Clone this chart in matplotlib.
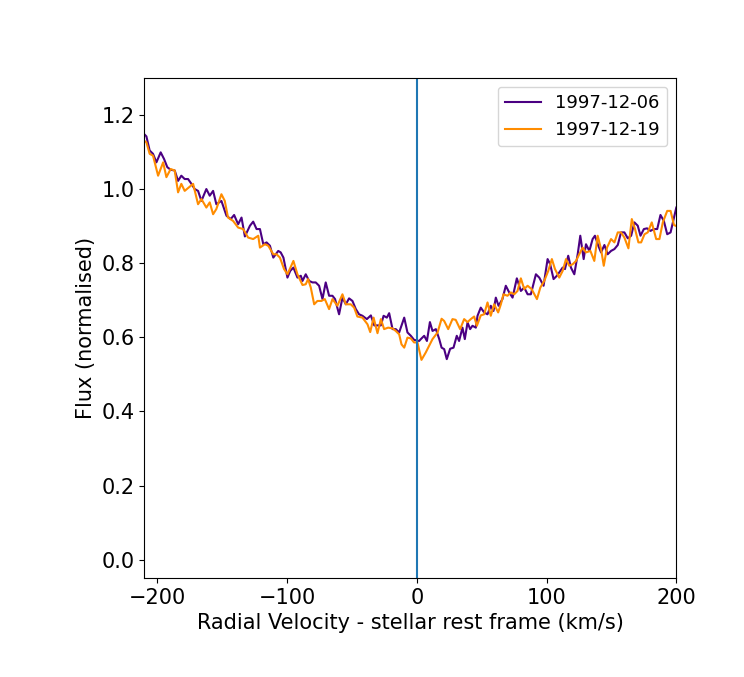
import numpy as np
import matplotlib
matplotlib.use("Agg")
import matplotlib.pyplot as plt

# 1997-12-06 spectrum (velocity km/s, normalised flux)
v_dec06 = [-212.0, -208.4, -205.9, -203.3, -200.7, -197.4, -194.8, -192.3, -189.7, -186.6,
           -184.0, -181.5, -178.9, -176.3, -173.7, -171.2, -168.6, -166.0, -162.2, -159.6,
           -157.0, -154.5, -150.6, -146.7, -143.4, -140.8, -137.7, -135.1, -132.5, -128.6,
           -126.1, -123.5, -120.9, -118.3, -115.8, -113.2, -110.6, -106.8, -104.9, -102.8,
           -99.7, -97.6, -95.1, -92.0, -89.4, -88.1, -85.6, -83.0, -80.4, -77.9,
           -75.3, -72.7, -70.2, -67.6, -65.0, -63.0, -59.9, -57.3, -54.7, -52.2,
           -49.6, -47.0, -44.5, -41.9, -38.5, -35.4, -32.8, -30.3, -27.7, -25.6,
           -23.1, -21.3, -18.7, -16.2, -13.6, -9.7, -7.2, -4.6, -2.1, 1.8,
           3.1, 5.7, 7.8, 10.1, 12.1, 14.7, 17.3, 19.1, 21.1, 23.1,
           25.7, 28.3, 30.8, 32.6, 35.2, 37.0, 39.1, 41.1, 42.9, 45.5,
           46.8, 49.3, 51.9, 54.5, 57.0, 59.1, 60.9, 63.0, 66.0, 68.6,
           71.2, 73.8, 77.1, 80.2, 82.8, 85.4, 87.9, 91.8, 94.4, 97.7,
           100.8, 102.8, 105.4, 108.0, 109.8, 112.4, 114.2, 116.7, 118.8, 121.4,
           124.0, 126.0, 128.6, 130.4, 133.0, 135.5, 137.3, 139.9, 142.0, 144.6,
           147.1, 149.7, 152.3, 154.9, 157.4, 160.0, 162.6, 165.2, 167.7, 170.3,
           172.4, 175.0, 177.5, 180.1, 182.7, 185.3, 187.8, 190.4, 193.0, 195.6,
           197.4, 200.0]
f_dec06 = [1.155, 1.142, 1.104, 1.095, 1.072, 1.099, 1.081, 1.059, 1.052, 1.050,
           1.022, 1.036, 1.027, 1.027, 1.014, 1.000, 0.995, 0.968, 1.000, 0.982,
           0.995, 0.959, 0.968, 0.928, 0.919, 0.930, 0.905, 0.923, 0.872, 0.901,
           0.912, 0.892, 0.892, 0.851, 0.856, 0.847, 0.815, 0.833, 0.829, 0.815,
           0.761, 0.779, 0.788, 0.761, 0.766, 0.752, 0.770, 0.752, 0.748, 0.748,
           0.739, 0.703, 0.748, 0.712, 0.712, 0.703, 0.662, 0.707, 0.689, 0.705,
           0.698, 0.676, 0.662, 0.658, 0.649, 0.659, 0.632, 0.632, 0.632, 0.658,
           0.653, 0.665, 0.622, 0.622, 0.613, 0.653, 0.613, 0.604, 0.593, 0.590,
           0.595, 0.604, 0.590, 0.641, 0.617, 0.622, 0.595, 0.572, 0.568, 0.541,
           0.569, 0.572, 0.604, 0.590, 0.626, 0.595, 0.640, 0.622, 0.631, 0.626,
           0.658, 0.680, 0.667, 0.662, 0.685, 0.671, 0.707, 0.685, 0.703, 0.739,
           0.721, 0.707, 0.759, 0.725, 0.734, 0.716, 0.716, 0.770, 0.761, 0.739,
           0.811, 0.797, 0.757, 0.766, 0.775, 0.788, 0.784, 0.820, 0.788, 0.770,
           0.824, 0.874, 0.811, 0.851, 0.833, 0.865, 0.874, 0.847, 0.829, 0.849,
           0.824, 0.833, 0.838, 0.849, 0.883, 0.883, 0.867, 0.874, 0.910, 0.901,
           0.874, 0.892, 0.894, 0.887, 0.892, 0.892, 0.930, 0.914, 0.878, 0.883,
           0.910, 0.950]

# 1997-12-19 spectrum
v_dec19 = [-212.0, -208.4, -205.9, -203.3, -199.4, -195.5, -193.0, -189.7, -186.6, -184.0,
           -181.5, -178.9, -175.5, -172.4, -168.6, -166.0, -162.2, -159.6, -157.0, -154.5,
           -150.6, -148.0, -145.5, -141.6, -137.7, -133.8, -130.0, -126.1, -122.2, -120.9,
           -117.1, -114.5, -110.6, -108.1, -105.5, -102.3, -99.7, -95.1, -92.0, -88.1,
           -85.6, -83.8, -81.7, -79.1, -76.6, -73.5, -70.9, -67.6, -65.0, -61.2,
           -57.3, -54.7, -50.9, -48.3, -45.8, -41.9, -38.0, -35.9, -33.3, -30.3,
           -27.7, -25.2, -22.1, -18.7, -16.2, -13.6, -11.8, -9.7, -7.2, -4.6,
           -2.1, 0.5, 3.6, 6.9, 9.5, 12.1, 16.0, 19.1, 21.1, 24.2,
           27.5, 30.0, 33.4, 36.5, 39.1, 41.6, 44.2, 46.3, 49.3, 51.9,
           54.5, 57.0, 59.6, 62.7, 64.8, 66.8, 69.9, 72.5, 75.1, 77.6,
           80.2, 82.8, 85.4, 88.5, 92.6, 95.2, 98.2, 101.3, 104.1, 106.5,
           109.8, 112.4, 115.0, 117.5, 120.1, 122.7, 125.2, 127.8, 130.4, 133.8,
           136.8, 139.4, 142.0, 144.1, 146.6, 149.7, 152.3, 154.9, 157.4, 160.0,
           163.1, 165.7, 168.2, 170.8, 172.9, 175.5, 178.0, 181.1, 184.5, 187.0,
           189.6, 193.0, 195.6, 198.2, 200.0]
f_dec19 = [1.135, 1.126, 1.095, 1.090, 1.036, 1.072, 1.032, 1.054, 1.050, 0.991,
           1.014, 0.995, 1.005, 1.014, 0.959, 0.973, 0.950, 0.964, 0.932, 0.946,
           0.986, 0.968, 0.923, 0.914, 0.896, 0.892, 0.869, 0.865, 0.874, 0.842,
           0.851, 0.847, 0.824, 0.824, 0.815, 0.784, 0.770, 0.806, 0.770, 0.741,
           0.743, 0.757, 0.734, 0.689, 0.698, 0.698, 0.703, 0.676, 0.703, 0.685,
           0.716, 0.689, 0.689, 0.680, 0.656, 0.653, 0.635, 0.614, 0.653, 0.611,
           0.649, 0.622, 0.626, 0.624, 0.617, 0.608, 0.581, 0.572, 0.599, 0.597,
           0.586, 0.586, 0.539, 0.559, 0.577, 0.595, 0.613, 0.650, 0.644, 0.622,
           0.649, 0.647, 0.622, 0.649, 0.641, 0.649, 0.656, 0.631, 0.659, 0.662,
           0.694, 0.658, 0.689, 0.667, 0.689, 0.716, 0.712, 0.721, 0.716, 0.725,
           0.759, 0.730, 0.739, 0.730, 0.703, 0.734, 0.752, 0.779, 0.811, 0.784,
           0.761, 0.779, 0.811, 0.793, 0.797, 0.806, 0.824, 0.842, 0.829, 0.833,
           0.806, 0.874, 0.838, 0.793, 0.842, 0.865, 0.856, 0.883, 0.883, 0.869,
           0.840, 0.919, 0.892, 0.856, 0.856, 0.878, 0.883, 0.910, 0.865, 0.865,
           0.910, 0.941, 0.941, 0.903, 0.900]

fig = plt.figure(figsize=(7.44, 6.77), dpi=100)
ax = fig.add_axes([0.194, 0.146, 0.715, 0.739])

ax.plot(v_dec06, f_dec06, color="indigo", lw=1.5, label="1997-12-06")
ax.plot(v_dec19, f_dec19, color="darkorange", lw=1.5, label="1997-12-19")
ax.axvline(0)

ax.set_xlim(-210, 200)
ax.set_ylim(-0.05, 1.3)
ax.set_xlabel("Radial Velocity - stellar rest frame (km/s)", fontsize=15)
ax.set_ylabel("Flux (normalised)", fontsize=15)
ax.tick_params(labelsize=15)
ax.legend(loc="upper right", fontsize=13)

fig.savefig("out.png", dpi=100)
